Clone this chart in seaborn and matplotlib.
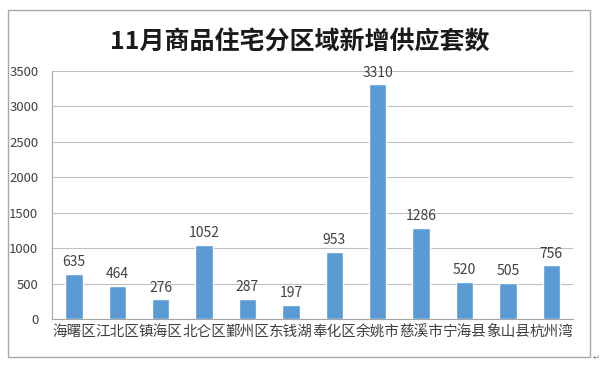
import numpy as np
import matplotlib.pyplot as plt
import seaborn as sns
from matplotlib.patches import Rectangle

# 数据
regions = ['海曙区', '江北区', '镇海区', '北仑区', '鄞州区', '东钱湖',
           '奉化区', '余姚市', '慈溪市', '宁海县', '象山县', '杭州湾']
supply = [635, 464, 276, 1052, 287, 197, 953, 3310, 1286, 520, 505, 756]
yticks = [0, 500, 1000, 1500, 2000, 2500, 3000, 3500]

sns.set_style('white')
plt.rcParams['font.family'] = ['Noto Sans CJK SC', 'DejaVu Sans']

fig = plt.figure(figsize=(6, 3.68), dpi=100)
ax = fig.add_axes([0.087, 0.133, 0.868, 0.674])

sns.barplot(x=regions, y=supply, color='#5B9BD5', width=0.4, saturation=1,
            ax=ax, zorder=3)

ax.set_ylim(0, 3500)
ax.set_yticks(yticks)
ax.set_xlim(-0.5, len(regions) - 0.5)
ax.yaxis.grid(True, color='#BFBFBF', linewidth=0.8, zorder=0)
ax.set_axisbelow(True)

for s in ['top', 'right']:
    ax.spines[s].set_visible(False)
for s in ['left', 'bottom']:
    ax.spines[s].set_color('#A6A6A6')
    ax.spines[s].set_linewidth(0.8)

# 刻度线放在类别之间
ax.set_xticks(np.arange(len(regions)))
ax.set_xticklabels(regions, fontsize=10.5, color='#404040')
ax.set_xticks(np.arange(len(regions) + 1) - 0.5, minor=True)
ax.tick_params(axis='x', which='major', length=0, pad=4)
ax.tick_params(axis='x', which='minor', length=4, color='#A6A6A6', width=0.8)
ax.tick_params(axis='y', length=4, color='#A6A6A6', width=0.8,
               labelsize=9.5, labelcolor='#404040', pad=6)
ax.set_xlabel('')
ax.set_ylabel('')

for i, v in enumerate(supply):
    ax.text(i, v + 70, str(v), ha='center', va='bottom', fontsize=10,
            color='#404040', zorder=4)

fig.text(0.5, 0.885, '11月商品住宅分区域新增供应套数', ha='center', va='center',
         fontsize=18, fontweight='bold', color='#1a1a1a')

# 外框
fig.add_artist(Rectangle((8 / 600, 1 - 357 / 368), 582 / 600, 347 / 368,
                         transform=fig.transFigure, fill=False,
                         edgecolor='#A6A6A6', linewidth=1))
fig.text(593 / 600, 1 - 357 / 368, '↵', fontsize=6, color='#808080',
         ha='left', va='center', family=['DejaVu Sans'])

fig.savefig('out.png', dpi=100)
